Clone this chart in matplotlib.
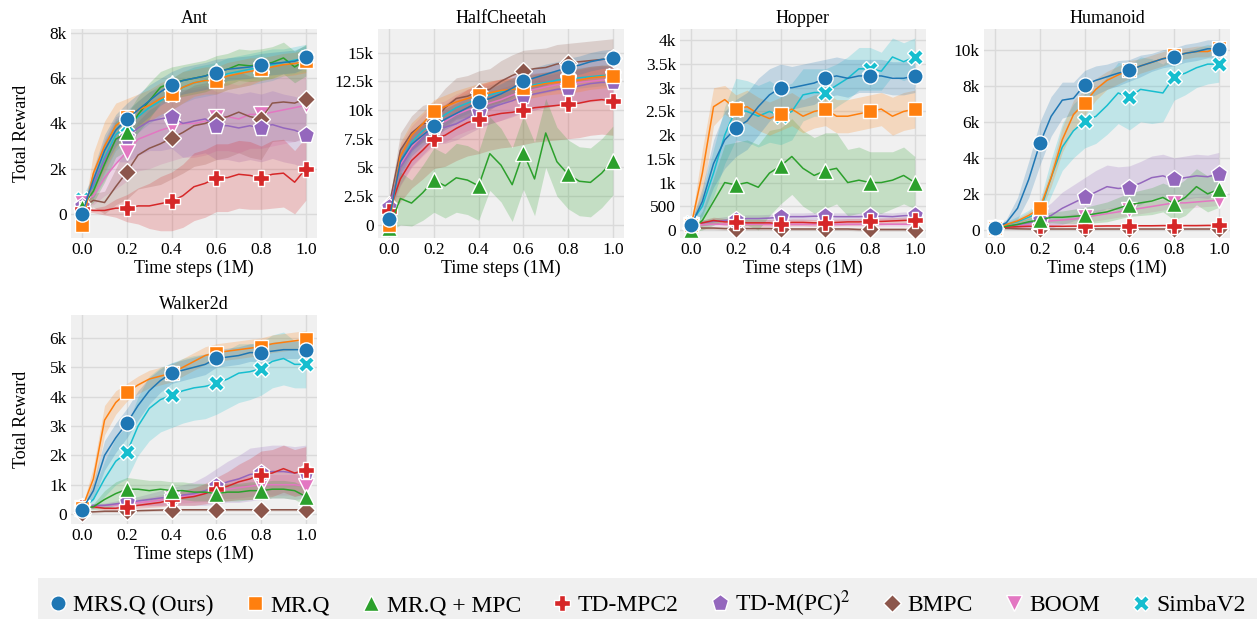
import numpy as np
import matplotlib
matplotlib.use("Agg")
import matplotlib.pyplot as plt
from matplotlib.lines import Line2D
from matplotlib.ticker import FuncFormatter

plt.rcParams['font.family'] = ['Liberation Serif', 'DejaVu Serif']
plt.rcParams['mathtext.fontset'] = 'stix'

# time steps (1M), every 0.05
steps = np.linspace(0, 1, 21)

methods = ['MRS.Q (Ours)', 'MR.Q', 'MR.Q + MPC', 'TD-MPC2', 'TD-M(PC)$^2$', 'BMPC', 'BOOM', 'SimbaV2']
colors = ['#1f77b4', '#ff7f0e', '#2ca02c', '#d62728', '#9467bd', '#8c564b', '#e377c2', '#17becf']
markers = ['o', 's', '^', 'P', 'p', 'D', 'v', 'X']
msizes = [11, 10, 11, 11, 12.5, 9, 11, 11]

# ---- Ant (mean, spread) ----
ant_mean = [
    [0, 1500, 2800, 3700, 4200, 4600, 5000, 5400, 5700, 5900, 6000, 6100, 6250, 6400, 6450, 6500, 6600, 6650, 6700, 6750, 6950],
    [-500, 1800, 3000, 3900, 4300, 4600, 4800, 5100, 5300, 5600, 5800, 5900, 5900, 6100, 6200, 6300, 6400, 6500, 6600, 6650, 6750],
    [300, 1000, 2200, 3300, 3600, 4400, 5000, 5600, 5800, 5900, 6000, 6100, 6300, 6400, 6600, 6550, 6600, 6700, 6900, 6500, 6800],
    [200, 150, 150, 250, 250, 350, 350, 450, 550, 800, 1200, 1350, 1600, 1600, 1750, 1700, 1600, 1750, 1800, 1400, 2000],
    [350, 1300, 2400, 3300, 3400, 3800, 4100, 4200, 4300, 4000, 4100, 4200, 3900, 3900, 3800, 3900, 3800, 3950, 3800, 3700, 3500],
    [250, 600, 500, 1200, 1850, 2600, 2900, 3100, 3350, 3600, 3900, 4000, 4200, 4300, 4500, 4300, 4200, 4900, 4950, 4900, 5100],
    [500, 800, 1600, 2200, 2750, 3300, 3500, 3700, 3850, 4000, 4000, 4100, 4300, 4300, 4200, 4400, 4400, 4500, 4600, 4700, 4800],
    [650, 1200, 2500, 3500, 3900, 4300, 4700, 5000, 5300, 5600, 5800, 5900, 6000, 6200, 6300, 6400, 6500, 6600, 6700, 6800, 6900],
]
ant_spread = [
    [100, 500, 700, 700, 700, 700, 700, 600, 600, 600, 600, 600, 600, 500, 500, 500, 500, 500, 500, 500, 500],
    [100, 900, 1100, 1000, 800, 700, 700, 700, 700, 700, 600, 600, 600, 600, 600, 600, 500, 500, 500, 500, 500],
    [100, 500, 800, 800, 800, 800, 800, 700, 700, 700, 700, 700, 700, 700, 700, 700, 700, 700, 700, 700, 700],
    [100, 100, 200, 400, 600, 800, 1000, 1200, 1300, 1400, 1500, 1500, 1500, 1500, 1500, 1500, 1400, 1500, 1500, 1400, 1400],
    [100, 600, 900, 1000, 1100, 1200, 1300, 1400, 1400, 1500, 1500, 1500, 1500, 1500, 1500, 1500, 1500, 1500, 1500, 1500, 1500],
    [100, 300, 500, 800, 1200, 1500, 1700, 1800, 1800, 1800, 1800, 1800, 1800, 1800, 1800, 1800, 1800, 1700, 1700, 1700, 1700],
    [100, 400, 800, 1100, 1300, 1400, 1500, 1500, 1500, 1500, 1500, 1500, 1500, 1500, 1500, 1500, 1500, 1500, 1500, 1500, 1500],
    [100, 500, 700, 700, 700, 700, 700, 700, 700, 700, 700, 700, 700, 700, 700, 700, 700, 700, 600, 600, 600],
]

# ---- HalfCheetah ----
hc_mean = [
    [500, 5500, 7000, 7800, 8600, 9200, 9700, 10200, 10700, 11000, 11400, 11900, 12500, 12800, 13100, 13400, 13700, 13900, 14200, 14400, 14500],
    [0, 6000, 7800, 8800, 9900, 10300, 10700, 11000, 11300, 11500, 11700, 11800, 11900, 12100, 12300, 12400, 12500, 12600, 12800, 12900, 13000],
    [-300, 2300, 1900, 2800, 3900, 3400, 4100, 3900, 3400, 6200, 5200, 3500, 6300, 4000, 8000, 5500, 4400, 3800, 3700, 4500, 5600],
    [1200, 4000, 5600, 6500, 7500, 7800, 8400, 8900, 9200, 9500, 9700, 9800, 10000, 10200, 10300, 10400, 10500, 10600, 10800, 10900, 10800],
    [1600, 5000, 6500, 7500, 8500, 8500, 8800, 9300, 9800, 10200, 10500, 10800, 11200, 11400, 11600, 11800, 11900, 12100, 12300, 12400, 12400],
    [1700, 6500, 8000, 8800, 9000, 10200, 11000, 11200, 11600, 11800, 12500, 13000, 13400, 13600, 13700, 14000, 14100, 14200, 14300, 14400, 14500],
    [1000, 5200, 6800, 7800, 8700, 9000, 9600, 10000, 10300, 10600, 10900, 11300, 11600, 11800, 12000, 12200, 12300, 12400, 12500, 12600, 12700],
    [800, 5500, 7200, 8200, 8900, 9600, 10200, 10600, 11000, 11300, 11600, 11800, 12000, 12200, 12400, 12600, 12700, 12800, 12900, 13000, 13000],
]
hc_spread = [
    [200, 1200, 1000, 900, 900, 900, 900, 900, 900, 900, 900, 900, 900, 900, 900, 800, 800, 800, 800, 800, 800],
    [200, 1200, 1100, 1000, 1000, 1000, 1000, 1000, 1000, 1000, 1000, 1000, 1000, 1000, 1000, 1000, 1000, 1000, 1000, 1000, 1000],
    [300, 2300, 2000, 2400, 2800, 2800, 3000, 3000, 3000, 3200, 3200, 3200, 3200, 3200, 3000, 3000, 3000, 3000, 3000, 3000, 3000],
    [300, 2000, 2400, 2500, 2600, 2700, 2800, 2900, 3000, 3000, 3000, 3000, 3000, 3000, 3000, 3000, 3000, 3000, 3000, 3000, 3000],
    [300, 1500, 1400, 1400, 1400, 1400, 1400, 1400, 1400, 1400, 1400, 1400, 1400, 1400, 1400, 1400, 1400, 1400, 1400, 1400, 1400],
    [300, 1500, 1500, 1600, 1700, 1700, 1800, 1800, 1800, 1800, 1800, 1800, 1800, 1700, 1700, 1700, 1700, 1700, 1700, 1700, 1700],
    [300, 1800, 1800, 1800, 1800, 1800, 1800, 1800, 1800, 1800, 1800, 1800, 1800, 1800, 1800, 1800, 1800, 1800, 1800, 1800, 1800],
    [200, 1000, 900, 900, 900, 900, 900, 900, 900, 900, 900, 900, 900, 900, 900, 900, 900, 900, 900, 900, 900],
]

# ---- Hopper ----
hop_mean = [
    [100, 600, 1400, 1900, 2150, 2300, 2600, 2850, 3000, 3000, 3050, 3100, 3200, 3250, 3200, 3250, 3250, 3250, 3200, 3200, 3250],
    [100, 1200, 2600, 2750, 2550, 2600, 2450, 2350, 2450, 2550, 2400, 2500, 2550, 2400, 2400, 2450, 2500, 2550, 2400, 2500, 2550],
    [0, 200, 600, 1000, 950, 1000, 900, 1200, 1350, 1550, 1300, 1150, 1250, 1300, 1000, 1050, 1000, 1000, 1050, 1150, 1000],
    [100, 150, 200, 170, 170, 150, 150, 150, 130, 160, 160, 150, 150, 160, 170, 170, 180, 180, 190, 200, 210],
    [100, 150, 180, 200, 220, 240, 240, 250, 270, 280, 280, 290, 290, 280, 280, 280, 290, 290, 280, 300, 310],
    [50, 40, 40, 30, 30, 30, 30, 30, 20, 20, 20, 20, 20, 20, 20, 10, 10, 10, 10, 10, 0],
    [100, 110, 120, 120, 120, 120, 120, 120, 120, 120, 120, 120, 120, 120, 120, 120, 120, 120, 120, 120, 120],
    [150, 500, 1200, 2000, 2550, 2500, 2400, 2500, 2400, 2500, 2850, 2900, 2900, 3050, 3200, 3400, 3400, 3350, 3650, 3550, 3650],
]
hop_spread = [
    [50, 300, 500, 600, 600, 600, 600, 550, 500, 450, 450, 450, 400, 400, 400, 350, 350, 350, 350, 350, 350],
    [50, 500, 400, 300, 300, 350, 350, 350, 350, 350, 350, 350, 350, 350, 350, 350, 350, 350, 400, 400, 400],
    [50, 200, 500, 800, 900, 900, 900, 900, 800, 800, 800, 800, 800, 750, 700, 700, 650, 650, 600, 600, 550],
    [50, 60, 70, 70, 70, 70, 70, 70, 70, 70, 70, 70, 70, 70, 70, 70, 70, 70, 70, 70, 70],
    [50, 60, 70, 80, 80, 80, 80, 80, 80, 80, 80, 80, 80, 80, 80, 80, 80, 80, 80, 80, 80],
    [30, 30, 30, 30, 30, 30, 30, 30, 30, 30, 30, 30, 30, 30, 30, 30, 30, 30, 30, 30, 30],
    [40, 40, 40, 40, 40, 40, 40, 40, 40, 40, 40, 40, 40, 40, 40, 40, 40, 40, 40, 40, 40],
    [50, 300, 500, 600, 650, 650, 650, 650, 600, 600, 550, 500, 500, 450, 450, 450, 450, 400, 400, 400, 400],
]

# ---- Humanoid ----
hum_mean = [
    [100, 400, 1200, 2800, 4800, 6300, 7200, 7300, 8050, 8300, 8500, 8700, 8850, 9100, 9300, 9500, 9600, 9800, 9900, 10050, 10050],
    [100, 300, 500, 800, 1200, 2900, 5000, 6400, 7050, 7800, 8300, 8600, 8900, 9100, 9300, 9500, 9700, 9800, 9900, 9900, 10100],
    [100, 200, 300, 450, 550, 700, 700, 750, 800, 900, 1000, 1200, 1400, 1500, 1600, 1800, 1450, 1800, 2400, 2000, 2250],
    [100, 150, 180, 200, 200, 200, 200, 210, 210, 210, 220, 220, 230, 230, 230, 240, 240, 240, 240, 250, 250],
    [100, 200, 300, 400, 550, 800, 1200, 1500, 1800, 2100, 2400, 2300, 2350, 2600, 2900, 3000, 2800, 2900, 3000, 2950, 3100],
    [100, 80, 60, 50, 40, 50, 50, 50, 50, 50, 50, 50, 50, 50, 50, 50, 50, 50, 50, 50, 50],
    [100, 150, 200, 300, 400, 500, 550, 600, 700, 800, 900, 1000, 1100, 1200, 1300, 1400, 1500, 1500, 1550, 1600, 1650],
    [100, 300, 450, 700, 1000, 2900, 4600, 5500, 6050, 6300, 6900, 7600, 7350, 7800, 7700, 7600, 8500, 8700, 9000, 9200, 9200],
]
hum_spread = [
    [50, 200, 600, 1000, 1200, 1100, 1000, 900, 800, 800, 700, 700, 600, 600, 500, 500, 500, 500, 500, 500, 500],
    [50, 100, 150, 200, 300, 500, 700, 800, 700, 600, 500, 500, 500, 400, 400, 400, 350, 300, 300, 300, 300],
    [50, 100, 150, 200, 250, 300, 350, 400, 450, 500, 550, 600, 650, 700, 750, 800, 900, 1000, 1000, 1000, 1000],
    [30, 40, 40, 40, 40, 40, 40, 40, 40, 40, 40, 40, 40, 40, 40, 40, 40, 40, 40, 40, 40],
    [50, 100, 200, 300, 500, 700, 900, 1000, 1100, 1200, 1200, 1200, 1200, 1200, 1200, 1200, 1200, 1200, 1200, 1200, 1200],
    [30, 40, 40, 40, 40, 40, 40, 40, 40, 40, 40, 40, 40, 40, 40, 40, 40, 40, 40, 40, 40],
    [50, 80, 100, 150, 200, 250, 250, 300, 300, 300, 300, 300, 300, 300, 300, 300, 300, 300, 300, 300, 300],
    [50, 150, 300, 400, 600, 1000, 1300, 1500, 1500, 1500, 1600, 1700, 1800, 1800, 1800, 1600, 1300, 1200, 1100, 1100, 1000],
]

# ---- Walker2d ----
wal_mean = [
    [150, 800, 2000, 2600, 3100, 3700, 4200, 4550, 4800, 4900, 5000, 5100, 5300, 5350, 5400, 5500, 5500, 5550, 5600, 5600, 5600],
    [200, 1200, 3200, 3800, 4150, 4400, 4600, 4700, 4800, 5000, 5200, 5400, 5500, 5550, 5600, 5650, 5700, 5800, 5850, 5900, 5950],
    [200, 250, 500, 700, 850, 850, 800, 850, 800, 800, 750, 750, 700, 750, 750, 800, 800, 850, 850, 800, 600],
    [250, 250, 200, 200, 250, 300, 350, 400, 500, 550, 600, 700, 850, 950, 1100, 1200, 1350, 1400, 1550, 1400, 1500],
    [250, 300, 300, 350, 400, 450, 500, 550, 600, 650, 700, 800, 950, 1100, 1200, 1350, 1400, 1450, 1450, 1400, 1450],
    [50, 80, 100, 100, 100, 120, 130, 140, 150, 150, 150, 150, 150, 150, 150, 150, 150, 150, 150, 150, 150],
    [200, 250, 300, 320, 350, 400, 430, 480, 550, 600, 650, 700, 800, 850, 900, 950, 1000, 1000, 1000, 1000, 950],
    [200, 500, 1200, 1800, 2100, 3000, 3600, 3900, 4050, 4200, 4300, 4350, 4450, 4600, 4800, 4850, 4950, 5200, 5300, 5100, 5100],
]
wal_spread = [
    [50, 300, 500, 500, 500, 500, 450, 400, 350, 350, 350, 350, 300, 300, 300, 300, 300, 300, 300, 300, 300],
    [50, 400, 500, 400, 300, 300, 300, 300, 300, 300, 300, 300, 300, 300, 300, 300, 300, 300, 300, 300, 300],
    [50, 100, 300, 400, 400, 350, 350, 300, 300, 300, 300, 300, 300, 300, 300, 300, 300, 300, 300, 300, 300],
    [50, 50, 50, 60, 80, 100, 120, 150, 200, 250, 300, 350, 400, 500, 600, 700, 800, 800, 800, 800, 800],
    [50, 60, 80, 100, 120, 150, 200, 250, 300, 350, 400, 500, 600, 700, 800, 900, 900, 900, 900, 900, 900],
    [30, 40, 40, 40, 40, 40, 40, 40, 40, 40, 40, 40, 40, 40, 40, 40, 40, 40, 40, 40, 40],
    [50, 50, 60, 80, 100, 120, 150, 180, 200, 220, 250, 280, 300, 320, 350, 350, 350, 350, 350, 350, 350],
    [50, 300, 600, 800, 900, 1000, 1100, 1100, 1100, 1100, 1100, 1100, 1050, 1000, 1000, 950, 900, 900, 900, 800, 800],
]

envs = ['Ant', 'HalfCheetah', 'Hopper', 'Humanoid', 'Walker2d']
means = [ant_mean, hc_mean, hop_mean, hum_mean, wal_mean]
spreads = [ant_spread, hc_spread, hop_spread, hum_spread, wal_spread]
ylims = [(-1070, 8180), (-1140, 17050), (-170, 4240), (-450, 11150), (-335, 6780)]
yticks = [np.arange(0, 8001, 2000), np.arange(0, 15001, 2500), np.arange(0, 4001, 500),
          np.arange(0, 10001, 2000), np.arange(0, 6001, 1000)]


def kfmt(v, pos):
    if abs(v) >= 1000:
        return f'{v/1000:g}k'
    return f'{v:g}'


W, H = 1259, 619
fig = plt.figure(figsize=(W / 100, H / 100), dpi=100)
lefts = [71, 378, 680, 984, 71]
tops = [29, 29, 29, 29, 315]
aw, ah = 246, 209

for k, env in enumerate(envs):
    ax = fig.add_axes([lefts[k] / W, 1 - (tops[k] + ah) / H, aw / W, ah / H])
    ax.set_facecolor('#f0f0f0')
    for s in ax.spines.values():
        s.set_visible(False)
    ax.grid(True, color='#dadada', linewidth=1.0)
    ax.set_axisbelow(True)
    for i in reversed(range(len(methods))):
        m = np.array(means[k][i], dtype=float)
        sd = np.array(spreads[k][i], dtype=float)
        ax.fill_between(steps, m - sd, m + sd, color=colors[i], alpha=0.22, linewidth=0)
        ax.plot(steps, m, color=colors[i], linewidth=1.1, marker=markers[i], markevery=4,
                markersize=msizes[i], markeredgecolor='white', markeredgewidth=1.0)
    ax.set_xlim(-0.05, 1.05)
    ax.set_ylim(*ylims[k])
    ax.set_xticks([0, 0.2, 0.4, 0.6, 0.8, 1.0])
    ax.set_xticklabels(['0.0', '0.2', '0.4', '0.6', '0.8', '1.0'])
    ax.set_yticks(yticks[k])
    ax.yaxis.set_major_formatter(FuncFormatter(kfmt))
    ax.tick_params(length=0, labelsize=12.5, pad=3)
    ax.set_title(env, fontsize=13, pad=4)
    ax.set_xlabel('Time steps (1M)', fontsize=13, labelpad=1)
    if k in (0, 4):
        ax.set_ylabel('Total Reward', fontsize=13, labelpad=14)

handles = [Line2D([], [], linestyle='none', marker=markers[i], color=colors[i], markersize=msizes[i],
                  markeredgecolor='white', markeredgewidth=1.0) for i in range(len(methods))]
leg = fig.legend(handles, methods, loc='lower left', bbox_to_anchor=(38 / W, -0.017), ncol=8,
                 fontsize=17, frameon=True, fancybox=False, facecolor='#f0f0f0', edgecolor='none',
                 framealpha=1, handlelength=0.8, handletextpad=0.25, columnspacing=1.35,
                 borderpad=0.45, borderaxespad=0)

fig.savefig('out.png', dpi=100)
